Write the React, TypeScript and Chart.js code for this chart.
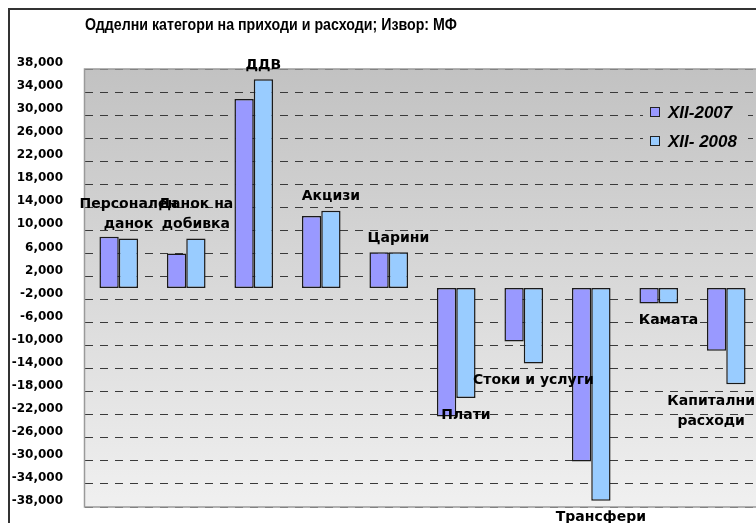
import React, { useEffect, useRef } from "react";
import { Chart, registerables } from "chart.js";

Chart.register(...registerables);

const titleText = "Одделни категори на приходи и расходи; Извор: МФ";
const categories: string[][] = [
  ["Персонален", "данок"],
  ["Данок на", "добивка"],
  ["ДДВ"],
  ["Акцизи"],
  ["Царини"],
  ["Плати"],
  ["Стоки и услуги"],
  ["Трансфери"],
  ["Камата"],
  ["Капитални", "расходи"],
];
const seriesNames = ["XII-2007", "XII- 2008"];
const series2007 = [8900, 6000, 32800, 12500, 6200, -22300, -9300, -30100, -2700, -10900];
const series2008 = [8600, 8600, 36200, 13400, 6200, -19100, -13100, -36900, -2700, -16700];
const yTicks = [
  38000, 34000, 30000, 26000, 22000, 18000, 14000, 10000, 6000, 2000,
  -2000, -6000, -10000, -14000, -18000, -22000, -26000, -30000, -34000, -38000,
];
const seriesColors = ["#9999FF", "#99CCFF"];

const VIEW_W = 756;
const VIEW_H = 523;
const CANVAS_W = 764;
const CANVAS_H = 523;

function makeGradient(chart: any) {
  const { ctx, chartArea } = chart;
  const g = ctx.createLinearGradient(0, chartArea.top, 0, chartArea.bottom);
  g.addColorStop(0, "#c2c2c2");
  g.addColorStop(1, "#f0f0f0");
  return g;
}

const formatTick = (v: number) => v.toLocaleString("en-US");

const decorPlugin = {
  id: "decor",
  beforeDraw(chart: any) {
    const { ctx, chartArea } = chart;
    ctx.save();
    ctx.fillStyle = "#ffffff";
    ctx.fillRect(0, 0, chart.width, chart.height);
    // outer frame (continues past the right and bottom edges)
    ctx.strokeStyle = "#333333";
    ctx.lineWidth = 2;
    ctx.strokeRect(9, 9, chart.width + 40, chart.height + 40);
    // plot background
    ctx.fillStyle = makeGradient(chart);
    ctx.fillRect(chartArea.left, chartArea.top, chartArea.right - chartArea.left, chartArea.bottom - chartArea.top);
    ctx.restore();
  },
  afterDatasetsDraw(chart: any) {
    const { ctx, chartArea } = chart;
    const yScale = chart.scales.y;
    ctx.save();
    // plot border
    ctx.strokeStyle = "#9a9a9a";
    ctx.lineWidth = 1.5;
    ctx.strokeRect(chartArea.left - 0.5, chartArea.top, chartArea.right - chartArea.left + 1, chartArea.bottom - chartArea.top);

    // y tick labels
    ctx.font = "bold 12px 'DejaVu Sans'";
    ctx.fillStyle = "#000";
    ctx.textAlign = "right";
    ctx.textBaseline = "middle";
    yTicks.forEach((v) => {
      ctx.fillText(formatTick(v), chartArea.left - 22, yScale.getPixelForValue(v) - 6);
    });

    // category labels next to the 2008 bars
    ctx.font = "bold 14px 'DejaVu Sans'";
    ctx.textAlign = "center";
    const meta = chart.getDatasetMeta(1);
    const lineH = 20;
    categories.forEach((lines, i) => {
      const el = meta.data[i];
      const v = series2008[i];
      const maxW = Math.max(...lines.map((l) => ctx.measureText(l).width));
      let x = el.x;
      if (x + maxW / 2 > 755) x = 755 - maxW / 2;
      if (v >= 0) {
        const lastY = el.y - 14;
        lines.forEach((l, k) => {
          ctx.fillText(l, x, lastY - (lines.length - 1 - k) * lineH);
        });
      } else {
        const firstY = el.y + 17;
        lines.forEach((l, k) => {
          ctx.fillText(l, x, firstY + k * lineH);
        });
      }
    });

    // legend
    const lx = chartArea.right - 117;
    const ly = chartArea.top + 34;
    ctx.fillStyle = makeGradient(chart);
    ctx.fillRect(lx, ly, 105, 54);
    ctx.font = "italic bold 17px 'Liberation Sans'";
    ctx.textAlign = "left";
    seriesNames.forEach((name, k) => {
      const cy = ly + 9 + k * 29;
      ctx.fillStyle = seriesColors[k];
      ctx.fillRect(lx + 7, cy - 4.5, 9, 9);
      ctx.strokeStyle = "#222";
      ctx.lineWidth = 1;
      ctx.strokeRect(lx + 7.5, cy - 4.5, 9, 9);
      ctx.fillStyle = "#000";
      ctx.fillText(name, lx + 25, cy + 1);
    });

    // title
    ctx.font = "bold 15px 'Liberation Sans'";
    ctx.textAlign = "center";
    const tw = ctx.measureText(titleText).width;
    const sx = 372 / tw;
    ctx.translate(271, 25);
    ctx.scale(sx, 1.1);
    ctx.fillText(titleText, 0, 0);
    ctx.restore();
  },
};

export default function App() {
  const canvasRef = useRef<HTMLCanvasElement | null>(null);

  useEffect(() => {
    const canvas = canvasRef.current;
    if (!canvas) return;
    const chart = new Chart(canvas, {
      type: "bar",
      data: {
        labels: categories.map((c) => c.join(" ")),
        datasets: [
          {
            label: seriesNames[0],
            data: series2007,
            backgroundColor: seriesColors[0],
            borderColor: "#1a1a1a",
            borderWidth: 1.5,
            borderSkipped: false,
          },
          {
            label: seriesNames[1],
            data: series2008,
            backgroundColor: seriesColors[1],
            borderColor: "#1a1a1a",
            borderWidth: 1.5,
            borderSkipped: false,
          },
        ],
      },
      options: {
        responsive: false,
        animation: false,
        devicePixelRatio: 1,
        layout: { padding: { left: 0, top: 69, right: 4, bottom: 16 } },
        datasets: { bar: { categoryPercentage: 0.572, barPercentage: 1 } },
        plugins: {
          legend: { display: false },
          title: { display: false },
          tooltip: { enabled: false },
        },
        scales: {
          x: { display: false, offset: true },
          y: {
            min: -38000,
            max: 38000,
            afterBuildTicks: (s: any) => {
              s.ticks = yTicks.map((v) => ({ value: v }));
            },
            afterFit: (s: any) => {
              s.width = 85;
            },
            ticks: { display: false },
            grid: { drawTicks: false, color: "#3a3a3a", lineWidth: 1 },
            border: { display: false, dash: [8, 7] },
          },
        },
      },
      plugins: [decorPlugin],
    } as any);
    return () => chart.destroy();
  }, []);

  return (
    <div style={{ position: "fixed", left: 0, top: 0, width: VIEW_W, height: VIEW_H, overflow: "hidden", background: "#fff" }}>
      <canvas
        ref={canvasRef}
        width={CANVAS_W}
        height={CANVAS_H}
        style={{ position: "absolute", left: 0, top: 0, width: CANVAS_W, height: CANVAS_H, display: "block" }}
      />
    </div>
  );
}
